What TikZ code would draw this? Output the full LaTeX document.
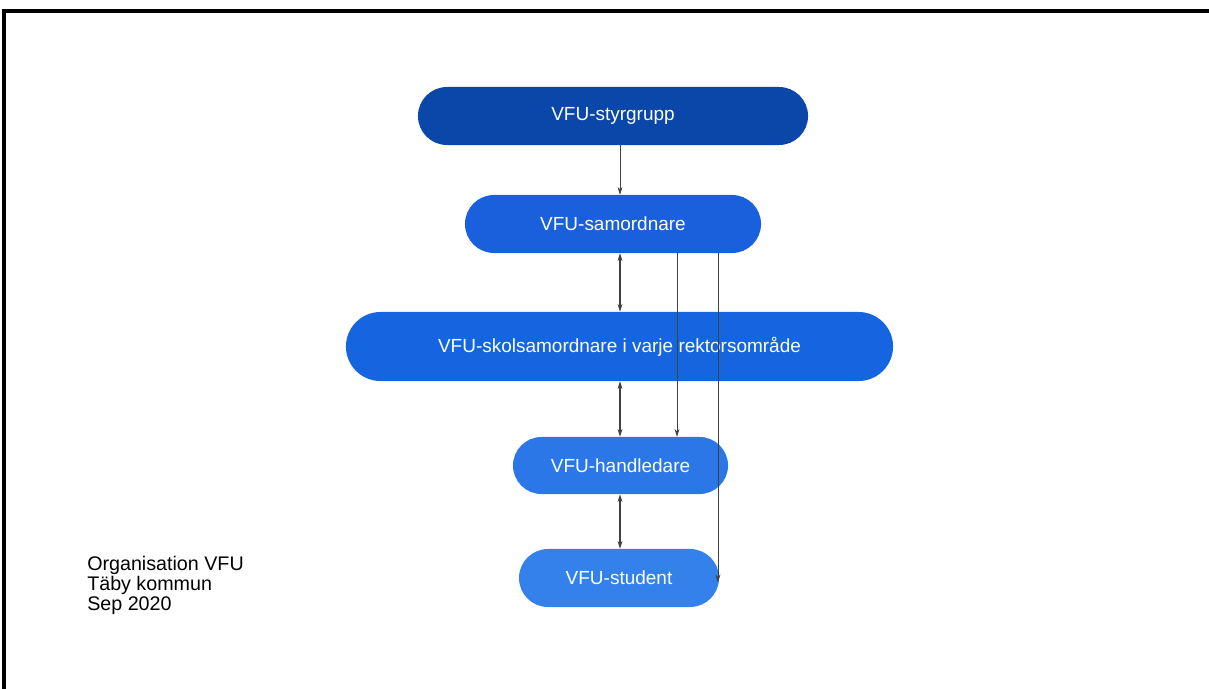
\documentclass[tikz,border=0pt]{standalone}
\usepackage{fontspec}
\setmainfont{Liberation Sans}
\usetikzlibrary{shapes.misc,arrows.meta}
\definecolor{styrblue}{HTML}{0B47A8}
\definecolor{samoblue}{HTML}{1A5FDB}
\definecolor{skolblue}{HTML}{1565E0}
\definecolor{handblue}{HTML}{2C77E8}
\definecolor{studblue}{HTML}{3581EC}
\tikzset{
  pill/.style={rounded rectangle, draw=none, text=white, inner sep=0pt,
    font=\fontsize{13.5}{16}\selectfont},
  link/.style={draw=black!75, line width=0.5pt, -{Stealth[length=5.5pt,width=3.5pt]}},
  twoway/.style={draw=black!75, line width=0.9pt, {Stealth[length=5.5pt,width=3.5pt]}-{Stealth[length=5.5pt,width=3.5pt]}}
}
\begin{document}
\begin{tikzpicture}[x=0.025cm, y=-0.025cm]
\useasboundingbox (0,0) rectangle (1209,689);
\draw[line width=0.1cm] (1212,11) -- (4,11) -- (4,692);

\node[pill, fill=styrblue, minimum width=9.75cm, minimum height=1.45cm] (styr) at (613,116) {VFU-styrgrupp};
\node[pill, fill=samoblue, minimum width=7.4cm, minimum height=1.45cm] (samo) at (613,224) {VFU-samordnare};
\node[pill, fill=skolblue, minimum width=13.675cm, minimum height=1.725cm] (skol) at (619.5,346.5) {VFU-skolsamordnare i varje rektorsområde};
\node[pill, fill=handblue, minimum width=5.375cm, minimum height=1.425cm] (hand) at (620.5,465.5) {VFU-handledare};
\node[pill, fill=studblue, minimum width=5cm, minimum height=1.45cm] (stud) at (619,578) {VFU-student};

\node[anchor=north west, align=left, inner sep=0pt, font=\fontsize{14}{14.2}\selectfont] (info) at (87,556) {Organisation VFU\\Täby kommun\\Sep 2020};

\coordinate (mid) at (620,0);
\coordinate (right) at (677,0);
\draw[link] (styr.south -| mid) -- (samo.north -| mid);
\draw[twoway] (samo.south -| mid) -- (skol.north -| mid);
\draw[twoway] (skol.south -| mid) -- (hand.north -| mid);
\draw[twoway] (hand.south -| mid) -- (stud.north -| mid);
\draw[link] (samo.south -| right) -- (hand.north -| right);
\draw[link] ([xshift=-1]samo.south -| stud.east) -- ([xshift=-1,yshift=-3]stud.east);
\end{tikzpicture}
\end{document}
